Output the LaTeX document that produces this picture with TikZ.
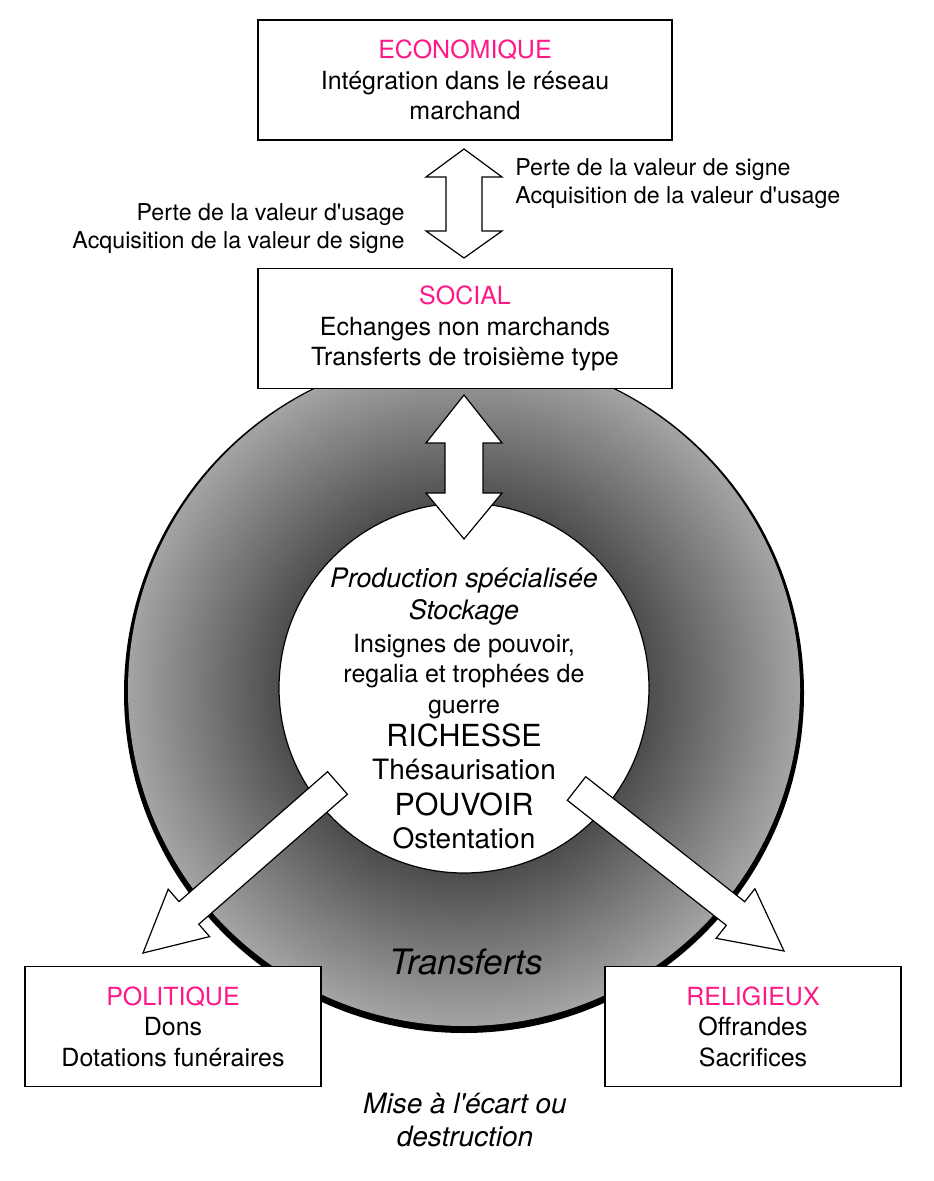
\documentclass[tikz,border=0pt]{standalone}
\usepackage{fontspec}
\setmainfont{TeX Gyre Heros}[Ligatures=TeXOff]
\definecolor{pinkc}{RGB}{255,25,135}
\colorlet{ringdark}{black!70}
\colorlet{ringlight}{black!36}
\begin{document}
\begin{tikzpicture}[x=0.5pt,y=-0.5pt,
  box/.style={draw, line width=0.8pt, fill=white, minimum width=207pt, minimum height=60pt, align=center, inner sep=0pt, font=\fontsize{12.5}{15.25}\selectfont},
  smallbox/.style={box, minimum width=148pt},
  blockarrow/.style={draw, fill=white, line width=0.6pt, line join=miter},
  side/.style={font=\fontsize{11.6}{14}\selectfont, inner sep=0pt},
  inl/.style={anchor=base, inner sep=0pt},
  fs/.style={font=\fontsize{12.5}{15}\selectfont},
  fi/.style={font=\fontsize{13.4}{16}\selectfont\itshape},
  fm/.style={font=\fontsize{14}{16}\selectfont},
  fb/.style={font=\fontsize{15.2}{18}\selectfont}]
\useasboundingbox (0,0) rectangle (933,1181);

% ring: black rim, then gradient from light (outside) to dark (inside)
\fill[black] (464,693) circle[radius=170pt];
\foreach \i in {0,...,60}{
  \pgfmathsetmacro\rr{168-\i*(168-92)/60}
  \pgfmathsetmacro\pp{100-\i*100/60}
  \fill[ringlight!\pp!ringdark] (464,690) circle[radius=\rr pt];
}
\draw[fill=white, line width=0.6pt] (464,688) circle[radius=92.5pt];

% double arrow between ring and social box
\draw[blockarrow] (464,395) -- (502,443) -- (483,443) -- (483,493) -- (502,493) -- (464,539)
  -- (426,493) -- (445,493) -- (445,443) -- (426,443) -- cycle;

% inner text
\node[inl,fi] (l1) at (464,587) {Production spécialisée};
\node[inl,fi] (l2) at (464,619) {Stockage};
\node[inl,fs] (l3) at (464,652) {Insignes de pouvoir,};
\node[inl,fs] (l4) at (464,682) {regalia et trophées de};
\node[inl,fs] (l5) at (464,713) {guerre};
\node[inl,fb] (l6) at (464,746) {RICHESSE};
\node[inl,fm] (l7) at (464,779) {Thésaurisation};
\node[inl,fb] (l8) at (464,815) {POUVOIR};
\node[inl,fm] (l9) at (464,848) {Ostentation};

% diagonal arrows
\draw[blockarrow] (327.6,771.7) -- (179.0,901.6) -- (168.2,889.2) -- (143,953)
  -- (209.6,936.6) -- (198.8,924.2) -- (347.4,794.3) -- cycle;
\draw[blockarrow] (585.7,776.7) -- (744.7,901.7) -- (754.9,888.7) -- (784,951)
  -- (716.1,938.3) -- (726.3,925.3) -- (567.3,800.3) -- cycle;

\node[font=\fontsize{17.5}{20}\selectfont\itshape] (transf) at (466,962) {Transferts};

% boxes
\node[box] (eco) at (465,80) {\textcolor{pinkc}{ECONOMIQUE}\\Intégration dans le réseau\\marchand};
\node[box] (soc) at (465,328.5) {\textcolor{pinkc}{SOCIAL}\\Echanges non marchands\\Transferts de troisième type};
\node[smallbox] (pol) at (173,1026.5) {\textcolor{pinkc}{POLITIQUE}\\Dons\\Dotations funéraires};
\node[smallbox] (rel) at (753,1026.5) {\textcolor{pinkc}{RELIGIEUX}\\Offrandes\\Sacrifices};

% double arrow between economique and social
\draw[blockarrow] (464,149) -- (502,177) -- (482,177) -- (482,231) -- (502,231) -- (464,258)
  -- (426,231) -- (446,231) -- (446,177) -- (426,177) -- cycle;

% side labels
\node[side, anchor=west, align=left] (rlab) at (515,183.5) {Perte de la valeur de signe\\Acquisition de la valeur d'usage};
\node[side, anchor=east, align=right] (llab) at (405,229) {Perte de la valeur d'usage\\Acquisition de la valeur de signe};

% bottom text
\node[font=\fontsize{14}{16.5}\selectfont\itshape, align=center] (mise) at (465,1120) {Mise à l'écart ou\\destruction};
\end{tikzpicture}
\end{document}
